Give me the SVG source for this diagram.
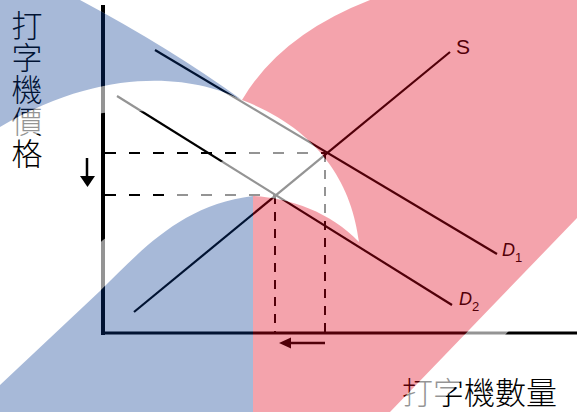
<svg xmlns="http://www.w3.org/2000/svg" xmlns:xlink="http://www.w3.org/1999/xlink" width="577" height="412" viewBox="0 0 577 412">
<style>
.ln{stroke:#000;stroke-width:2.2;fill:none}
.ax{stroke:#000;fill:none}
.dh{stroke:#000;stroke-width:2;stroke-dasharray:11 13;fill:none}
.dv{stroke:#000;stroke-width:2;stroke-dasharray:9 8;fill:none}
.cjk{font-family:"Noto Sans CJK TC","Noto Sans CJK SC",sans-serif;font-weight:300;fill:#000}
.lat{font-family:"Liberation Sans",Arial,sans-serif;fill:#000}
.blue{fill:#03368F;fill-opacity:0.35}
.pink{fill:#E0001A;fill-opacity:0.36}
</style>
<defs>
<path id="blueTop" d="M0,0 L80,0 Q170,48 242,100 C200,78 110,62 0,127 Z"/>
<path id="blueBot" d="M0,385 L100,291 C140,252 180,205 253,196 L253,412 L0,412 Z"/>
<path id="pinkShape" d="M242,100 Q280,35 370,0 L577,0 L577,218 L390,412 L253,412 L253,196 C290,198 330,212 359,242 C352,185 320,130 242,100 Z"/>
<path id="hole" d="M0,145 L30,137 Q70,118 103,113 Q185,102 258,150 Q215,158 165,196 L103,240 L0,335 Z"/>
<path id="outBR" d="M577,260 L431,412 L577,412 Z"/>
<path id="outTop" d="M80,0 L370,0 Q280,35 242,100 Q170,48 80,0 Z"/>
<mask id="wm" maskUnits="userSpaceOnUse" x="0" y="0" width="577" height="412">
<rect width="577" height="412" fill="#fff"/>
<use xlink:href="#blueTop" fill="#000"/>
<use xlink:href="#blueBot" fill="#000"/>
<use xlink:href="#pinkShape" fill="#000"/>
<use xlink:href="#hole" fill="#000"/>
<use xlink:href="#outBR" fill="#000"/>
<use xlink:href="#outTop" fill="#000"/>
</mask>
</defs>
<rect width="577" height="412" fill="#fff"/>
<g id="axes">
<line class="ax" x1="103" y1="5" x2="103" y2="335" stroke-width="4"/>
<line class="ax" x1="101" y1="333" x2="577" y2="333" stroke-width="3"/>
</g>
<g id="connectors">
<line class="dh" x1="105" y1="153" x2="325" y2="153"/>
<line class="dh" x1="105" y1="195" x2="275" y2="195"/>
<line class="dv" x1="325" y1="153" x2="325" y2="332"/>
<line class="dv" x1="275" y1="195" x2="275" y2="332"/>
</g>
<g id="S">
<line class="ln" x1="134" y1="312" x2="450" y2="52"/>
<text class="lat" x="456" y="54" font-size="21">S</text>
</g>
<g id="D1">
<line class="ln" x1="155" y1="50" x2="497" y2="254"/>
<text class="lat" x="502" y="256" font-size="18" font-style="italic">D<tspan font-size="13" dy="6" font-style="normal">1</tspan></text>
</g>
<g id="D2">
<line class="ln" x1="117" y1="96" x2="452" y2="305"/>
<text class="lat" x="459" y="305" font-size="18" font-style="italic">D<tspan font-size="13" dy="6" font-style="normal">2</tspan></text>
</g>
<g id="arrows">
<line x1="87" y1="158" x2="87" y2="178" stroke="#000" stroke-width="2.5"/>
<polygon points="80,176 95,176 87.5,187" fill="#000"/>
<line x1="325" y1="343" x2="288" y2="343" stroke="#000" stroke-width="2.5"/>
<polygon points="279,343 291,337.5 291,348.5" fill="#000"/>
</g>
<g id="labels">
<text class="cjk" x="27" y="10" font-size="31" writing-mode="tb" style="writing-mode:vertical-rl" letter-spacing="1">打字機價格</text>
<text class="cjk" x="402" y="404" font-size="31">打字機數量</text>
</g>
<g id="background-overlay">
<rect width="577" height="412" fill="#fff" fill-opacity="0.58" mask="url(#wm)"/>
<use xlink:href="#blueTop" class="blue"/>
<use xlink:href="#blueBot" class="blue"/>
<use xlink:href="#pinkShape" class="pink"/>
</g>
</svg>
